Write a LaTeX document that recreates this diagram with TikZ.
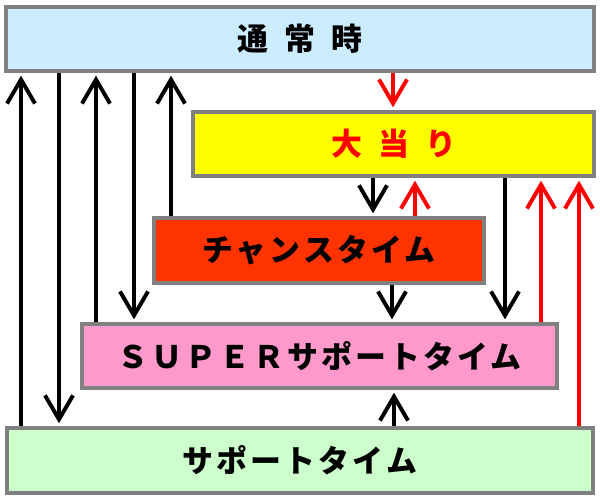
\documentclass[tikz,border=0pt]{standalone}
\usepackage{fontspec}
\newfontfamily\jp{Noto Sans CJK JP}[LetterSpace=10,BoldFont={Noto Sans CJK JP Black}]
\usetikzlibrary{arrows.meta}
\definecolor{boxgray}{RGB}{128,128,128}
\definecolor{normalblue}{RGB}{204,236,255}
\definecolor{jackyellow}{RGB}{255,255,0}
\definecolor{chancered}{RGB}{255,51,0}
\definecolor{superpink}{RGB}{255,153,204}
\definecolor{supportgreen}{RGB}{204,255,204}
\newcommand\wsp{\hspace{.52em}}
\begin{document}
\begin{tikzpicture}[x=0.025cm,y=-0.025cm,
  box/.style={draw=boxgray,line width=2.6pt,inner sep=0pt,minimum height=1.6cm,
    font=\jp\bfseries\fontsize{22}{26}\selectfont},
  blk/.style={line width=2.8pt,-{Straight Barb[length=6mm,width=7mm]},shorten >=2pt},
  redarr/.style={blk,red}]
\useasboundingbox (0,0) rectangle (600,500);
\node[box,fill=normalblue,minimum width=14.7cm] (normal) at (300,39) {通\wsp 常\wsp 時};
\node[box,fill=jackyellow,minimum width=10.03cm,text=red] (jackpot) at (393.5,144) {大\wsp 当\wsp り};
\node[box,fill=chancered,minimum width=8.25cm,minimum height=1.63cm] (chance) at (319,250.5) {チャンスタイム};
\node[box,fill=superpink,minimum width=11.88cm] (superst) at (319.5,356) {ＳＵＰＥＲサポートタイム\hspace{-.8em}};
\node[box,fill=supportgreen,minimum width=14.65cm,minimum height=1.63cm] (support) at (300,460.5) {サポートタイム};
\foreach \x/\a/\b in {21/support/normal,96/superst/normal,171/chance/normal,394/support/superst}
  \draw[blk] (\a.north -| \x,0) -- (\b.south -| \x,0);
\foreach \x/\a/\b in {59/normal/support,134/normal/superst,373/jackpot/chance,505/jackpot/superst,392/chance/superst}
  \draw[blk] (\a.south -| \x,0) -- (\b.north -| \x,0);
\foreach \x/\a in {415/chance,541/superst,579/support}
  \draw[redarr] (\a.north -| \x,0) -- (jackpot.south -| \x,0);
\draw[redarr] (normal.south -| 393,0) -- (jackpot.north -| 393,0);
\end{tikzpicture}
\end{document}
